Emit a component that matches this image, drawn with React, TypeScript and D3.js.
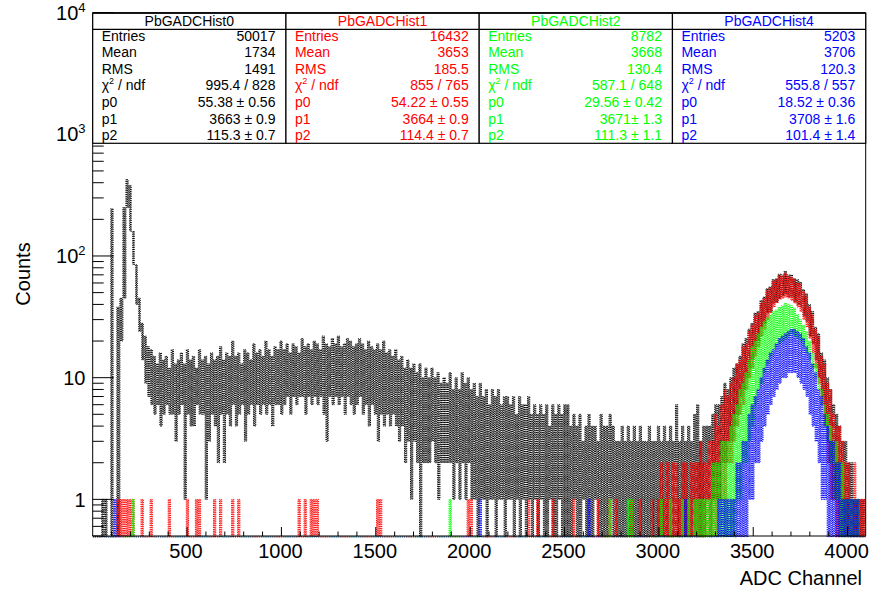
import React from 'react';
import * as d3 from 'd3';

const W = 872;
const H = 592;

// ADC spectra, stored as the min / max channel count inside each 16-channel group
const CHANNELS_PER_GROUP = 16;
const N_GROUPS = 256;

// PbGADCHist0 (black) — groups 0..255
const hist0Max = [
  // ch 0-303
  0, 0, 0, 1, 1, 0, 245, 0, 38, 45, 250, 425, 380, 160, 85, 45, 28, 22, 18,
  // ch 304-1007
  17, 15, 13, 16, 14, 15, 12, 17, 13, 14, 16, 13, 17, 14, 15, 12, 17, 14, 15, 13, 16, 14,
  15, 18, 14, 16, 15, 20, 15, 16, 13, 17, 16, 14, 19, 16, 17, 15, 20, 17, 15, 18, 17, 20,
  // ch 1008-1503
  17, 19, 16, 19, 18, 16, 21, 18, 19, 17, 20, 19, 17, 22, 19, 18, 21, 19, 22, 18, 19, 21,
  20, 18, 19, 21, 19, 17, 20, 18, 17,
  // ch 1504-1999
  19, 17, 20, 16, 17, 15, 17, 14, 15, 12, 14, 12, 13, 11, 13, 10, 12, 10, 12, 10, 11, 9,
  10, 9, 11, 8, 10, 8, 11, 9, 10,
  // ch 2000-2511
  8, 9, 7, 9, 7, 8, 6, 8, 7, 8, 6, 7, 7, 6, 7, 5, 7, 6, 6, 7, 5, 6, 5, 6, 5, 6, 4, 6, 5, 6,
  5, 6,
  // ch 2512-3007
  6, 4, 5, 4, 5, 3, 4, 5, 4, 4, 3, 5, 4, 4, 5, 4, 3, 3, 4, 3, 4, 3, 4, 3, 4, 3, 3, 4, 3, 3, 4,
  // ch 3008-3311
  3, 4, 3, 4, 3, 6, 3, 4, 3, 4, 3, 5, 6, 3, 4, 4, 4, 5, 6,
  // ch 3312-4095
  6, 7, 9, 8, 10, 12, 13, 15, 19, 21, 25, 28, 34, 35, 43, 46, 54, 56, 64, 65, 71, 70, 75,
  70, 70, 65, 64, 61, 53, 49, 40, 35, 26, 23, 16, 14, 10, 8, 6, 5, 4, 3, 3, 2, 2, 1, 1, 1, 1,
];
const hist0Min = [
  0, 0, 0, 0, 0, 0, 0, 0, 0, 20, 45, 250, 160, 85, 40, 24, 14, 9, 7,
  6, 5, 6, 4, 5, 6, 5, 5, 3, 5, 6, 1, 5, 4, 4, 6, 5, 5, 1, 3, 5, 4, 2, 5, 2, 5, 4, 6, 4, 5,
  6, 3, 5, 6, 4, 6, 5, 6, 5, 6, 4, 6, 6, 5,
  6, 7, 5, 7, 6, 7, 7, 5, 7, 6, 7, 6, 7, 5, 3, 7, 6, 7, 6, 7, 5, 7, 6, 5, 6, 7, 5, 6, 4, 6, 5,
  3, 5, 4, 5, 4, 5, 4, 3, 4, 2, 3, 1, 3, 2, 0, 2, 2, 2, 3, 2, 1, 2, 2, 2, 2, 1, 2, 1, 2, 1, 2,
  1, 1, 0, 1, 1, 0, 1, 1, 0, 1, 1, 0, 1, 1, 0, 1, 0, 1, 0, 1, 0, 1, 0, 1, 0, 0, 1, 0, 0, 1,
  0, 0,
  0, 0, 1, 0, 0, 1, 0, 0, 0, 1, 0, 0, 0, 0, 1, 0, 0, 0, 0, 0, 0, 0, 0, 0, 0, 0, 0, 0, 0, 0, 0,
  0, 0, 0, 0, 0, 0, 0, 0, 0, 0, 0, 0, 0, 0, 0, 1, 0, 1, 1,
  1, 2, 2, 3, 3, 4, 5, 7, 8, 10, 12, 14, 18, 20, 26, 28, 34, 35, 41, 42, 45, 47, 49, 46,
  46, 42, 40, 38, 32, 29, 22, 19, 14, 10, 7, 5, 3, 2, 1, 1, 0, 0, 0, 0, 0, 0, 0, 0, 0,
];

// PbGADCHist1 (red): isolated single counts, then the peak from group 187 on
const hist1Singles = [8, 9, 10, 11, 12, 13, 16, 19, 25, 31, 34, 35, 40, 42, 46, 48, 68, 70, 72,
  73, 74, 94, 95, 124, 125, 144, 147, 152, 159, 167, 171, 173, 178, 181, 185];
const hist1PeakStart = 187;
const hist1PeakMax = [1, 2, 1, 2, 1, 2, 2, 1, 2, 2, 1, 2, 2, 2, 3, 2, 2, 3,
  3, 5, 4, 6, 8, 7, 9, 10, 13, 14, 18, 19, 24, 27, 32, 34, 41, 45, 52, 55, 62, 64, 69, 68,
  72, 68, 67, 65, 60, 59, 51, 47, 38, 33, 25, 22, 15, 13, 9, 8, 5, 4, 4, 3, 2, 2, 1, 2, 1, 1, 1];
const hist1PeakMin = [0, 0, 0, 0, 0, 0, 0, 0, 0, 0, 0, 0, 0, 0, 0, 0, 0, 0,
  0, 0, 1, 1, 1, 2, 2, 3, 4, 5, 6, 8, 10, 12, 15, 18, 22, 25, 30, 34, 38, 41, 44, 45, 46, 45,
  43, 41, 38, 35, 30, 26, 21, 16, 12, 9, 6, 4, 2, 1, 1, 0, 0, 0, 0, 0, 0, 0, 0, 0, 0];

// PbGADCHist2 (green)
const hist2Singles = [13, 118, 171, 177, 178, 188, 191, 195, 197, 199];
const hist2PeakStart = 200;
const hist2PeakMax = [1, 1, 1, 1, 1, 2, 2, 2, 3, 3, 3, 4, 5, 6, 8, 9, 11, 14, 18, 20, 23, 26,
  29, 31, 33, 35, 36, 38, 39, 41, 40, 39, 37, 33, 30, 27, 24, 20, 16, 13, 10, 8, 6, 5, 4, 3,
  3, 2, 2, 1, 1, 1, 1, 1, 0, 0];
const hist2PeakMin = [0, 0, 0, 0, 0, 0, 0, 0, 0, 0, 0, 0, 0, 1, 1, 2, 2, 3, 4, 6, 8, 9, 11,
  13, 15, 17, 18, 19, 20, 21, 22, 23, 22, 21, 20, 18, 16, 14, 12, 10, 8, 6, 4, 3, 2, 1, 1, 0,
  0, 0, 0, 0, 0, 0, 0, 0];

// PbGADCHist4 (blue)
const hist4Singles = [7, 128, 164, 196];
const hist4PeakStart = 205;
const hist4PeakMax = [0, 0, 1, 1, 1, 1, 1, 1, 2, 2, 3, 3, 5, 6, 7, 8, 10, 12, 14, 16, 17, 19,
  21, 22, 23, 24, 25, 25, 24, 23, 21, 18, 16, 13, 11, 8, 7, 5, 4, 3, 3, 2, 2, 1, 1, 1, 1, 1,
  1, 0, 0];
const hist4PeakMin = [0, 0, 0, 0, 0, 0, 0, 0, 0, 0, 0, 0, 1, 1, 2, 2, 3, 4, 5, 6, 7, 8, 9, 10,
  10, 11, 11, 11, 10, 9, 8, 7, 5, 4, 3, 2, 1, 1, 0, 0, 0, 0, 0, 0, 0, 0, 0, 0, 0, 0, 0];

// Statistics / fit boxes
const boxTitles = ['PbGADCHist0', 'PbGADCHist1', 'PbGADCHist2', 'PbGADCHist4'];
const boxColors = ['#000000', '#ff0000', '#00ff00', '#0000ff'];
const rowLabels = ['Entries', 'Mean', 'RMS', 'CHI2', 'p0', 'p1', 'p2'];
const boxValues = [
  ['50017', '1734', '1491', '995.4 / 828', '55.38 \u00b1 0.56', '3663 \u00b1 0.9', '115.3 \u00b1 0.7'],
  ['16432', '3653', '185.5', '855 / 765', '54.22 \u00b1 0.55', '3664 \u00b1 0.9', '114.4 \u00b1 0.7'],
  ['8782', '3668', '130.4', '587.1 / 648', '29.56 \u00b1 0.42', '3671\u00b1 1.3', '111.3 \u00b1 1.1'],
  ['5203', '3706', '120.3', '555.8 / 557', '18.52 \u00b1 0.36', '3708 \u00b1 1.6', '101.4 \u00b1 1.4'],
];

const xTicksMajor = [500, 1000, 1500, 2000, 2500, 3000, 3500, 4000];
const yTickLabels = [
  { v: 1, base: '1', sup: '' },
  { v: 10, base: '10', sup: '' },
  { v: 100, base: '10', sup: '2' },
  { v: 1000, base: '10', sup: '3' },
  { v: 10000, base: '10', sup: '4' },
];

const FONT = '"Liberation Sans", Arial, Helvetica, sans-serif';

function expand(singles: number[], start: number, peak: number[]): number[] {
  const out = new Array(N_GROUPS).fill(0);
  singles.forEach((g) => { out[g] = 1; });
  peak.forEach((v, i) => { if (start + i < N_GROUPS) out[start + i] = v; });
  return out;
}
function expandMin(start: number, peak: number[]): number[] {
  const out = new Array(N_GROUPS).fill(0);
  peak.forEach((v, i) => { if (start + i < N_GROUPS) out[start + i] = v; });
  return out;
}

const series = [
  { color: '#000000', max: hist0Max, min: hist0Min },
  { color: '#ff0000', max: expand(hist1Singles, hist1PeakStart, hist1PeakMax), min: expandMin(hist1PeakStart, hist1PeakMin) },
  { color: '#00ff00', max: expand(hist2Singles, hist2PeakStart, hist2PeakMax), min: expandMin(hist2PeakStart, hist2PeakMin) },
  { color: '#0000ff', max: expand(hist4Singles, hist4PeakStart, hist4PeakMax), min: expandMin(hist4PeakStart, hist4PeakMin) },
];

const X0 = 92.7, X1 = 865.7, Y0 = 12.6, Y1 = 536;

export default function App() {
  const x = d3.scaleLinear().domain([0, 4096]).range([X0, X1]);
  const y = d3.scaleLog().domain([0.5, 1e4]).range([Y1, Y0]);
  const yv = (v: number) => (v <= 0 ? Y1 + 1 : Math.min(Y1 + 1, y(v)));

  // each group is drawn as a zig-zag between its min and max count,
  // four vertical strokes per group
  const stepPath = (maxs: number[], mins: number[]) => {
    let d = '';
    const q = CHANNELS_PER_GROUP / 4;
    for (let i = 0; i < maxs.length; i++) {
      const c0 = i * CHANNELS_PER_GROUP;
      const xs = [0, 1, 2, 3, 4].map((k) => x(c0 + k * q).toFixed(2));
      const hi = yv(maxs[i]).toFixed(2);
      const lo = yv(Math.min(mins[i], maxs[i])).toFixed(2);
      d += `${i === 0 ? 'M' : 'L'}${xs[0]},${hi}L${xs[1]},${hi}L${xs[1]},${lo}L${xs[2]},${lo}L${xs[2]},${hi}L${xs[3]},${hi}L${xs[3]},${lo}L${xs[4]},${lo}`;
    }
    return d;
  };

  const xMinor = d3.range(100, 4096, 100).filter((v) => v % 500 !== 0);
  const yMinor: number[] = [];
  for (let e = -1; e < 4; e++) {
    for (let m = 2; m <= 9; m++) {
      const v = m * Math.pow(10, e);
      if (v >= 0.5 && v < 1e4) yMinor.push(v);
    }
  }

  const boxW = (X1 - X0) / 4;
  const boxTop = 13.3, boxSep = 29.3, boxBottom = 143.3;

  return (
    <svg width={W} height={H} style={{ position: 'absolute', left: 0, top: 0, background: '#fff' }} fontFamily={FONT}>
      <rect x={0} y={0} width={W} height={H} fill="#fff" />
      <defs>
        <clipPath id="frame">
          <rect x={X0} y={Y0} width={X1 - X0} height={Y1 - Y0 + 1.5} />
        </clipPath>
      </defs>

      <g clipPath="url(#frame)">
        {series.map((s, i) => (
          <path key={i} d={stepPath(s.max, s.min)} fill="none" stroke={s.color} strokeWidth={1} strokeDasharray="1.2 1" />
        ))}
      </g>

      {/* frame */}
      <line x1={X0} y1={Y0} x2={X0} y2={Y1} stroke="#000" strokeWidth={1} />
      <line x1={X0} y1={Y1} x2={X1} y2={Y1} stroke="#000" strokeWidth={1} />
      <line x1={X1} y1={Y0} x2={X1} y2={Y1} stroke="#000" strokeWidth={1} />
      <line x1={X0} y1={Y0} x2={X1} y2={Y0} stroke="#000" strokeWidth={1} />

      {/* x axis ticks */}
      {xTicksMajor.map((v) => (
        <g key={v}>
          <line x1={x(v)} x2={x(v)} y1={Y1} y2={Y1 - 9} stroke="#000" />
          <text x={x(v) - 1} y={557.5} fontSize={20} textAnchor="middle" fill="#000">{v}</text>
        </g>
      ))}
      {xMinor.map((v) => (
        <line key={v} x1={x(v)} x2={x(v)} y1={Y1} y2={Y1 - 4.5} stroke="#000" />
      ))}
      <text x={862} y={585} fontSize={20} textAnchor="end" fill="#000">ADC Channel</text>

      {/* y axis ticks */}
      {yTickLabels.map((t) => (
        <g key={t.v}>
          <line x1={X0} x2={X0 + 21} y1={y(t.v)} y2={y(t.v)} stroke="#000" />
          <text x={85.5} y={y(t.v) + 7.2} fontSize={20} textAnchor="end" fill="#000">
            <tspan>{t.base}</tspan>
            {t.sup ? <tspan fontSize={13} dy={-8}>{t.sup}</tspan> : null}
          </text>
        </g>
      ))}
      {yMinor.map((v) => (
        <line key={v} x1={X0} x2={X0 + 11} y1={y(v)} y2={y(v)} stroke="#000" />
      ))}
      <text transform="translate(29.5,274) rotate(-90)" fontSize={20} textAnchor="middle" fill="#000">Counts</text>

      {/* statistics boxes */}
      {boxTitles.map((title, b) => {
        const bx = X0 + b * boxW;
        const col = boxColors[b];
        return (
          <g key={title}>
            <rect x={bx} y={boxTop} width={boxW} height={boxBottom - boxTop} fill="#fff" stroke="#000" strokeWidth={1.2} />
            <line x1={bx} x2={bx + boxW} y1={boxSep} y2={boxSep} stroke="#000" strokeWidth={1.2} />
            <text x={bx + boxW / 2} y={26} fontSize={14} textAnchor="middle" fill={col}>{title}</text>
            {rowLabels.map((lab, r) => {
              const by = 40.7 + r * 16.57;
              return (
                <g key={lab}>
                  <text x={bx + 9} y={by} fontSize={14} fill={col}>
                    {lab === 'CHI2' ? (
                      <>
                        <tspan>{'\u03c7'}</tspan>
                        <tspan fontSize={9} dy={-6}>2</tspan>
                        <tspan dy={6}>{' / ndf'}</tspan>
                      </>
                    ) : lab}
                  </text>
                  <text x={bx + boxW - 10.5} y={by} fontSize={14} textAnchor="end" fill={col}>{boxValues[b][r]}</text>
                </g>
              );
            })}
          </g>
        );
      })}
    </svg>
  );
}
